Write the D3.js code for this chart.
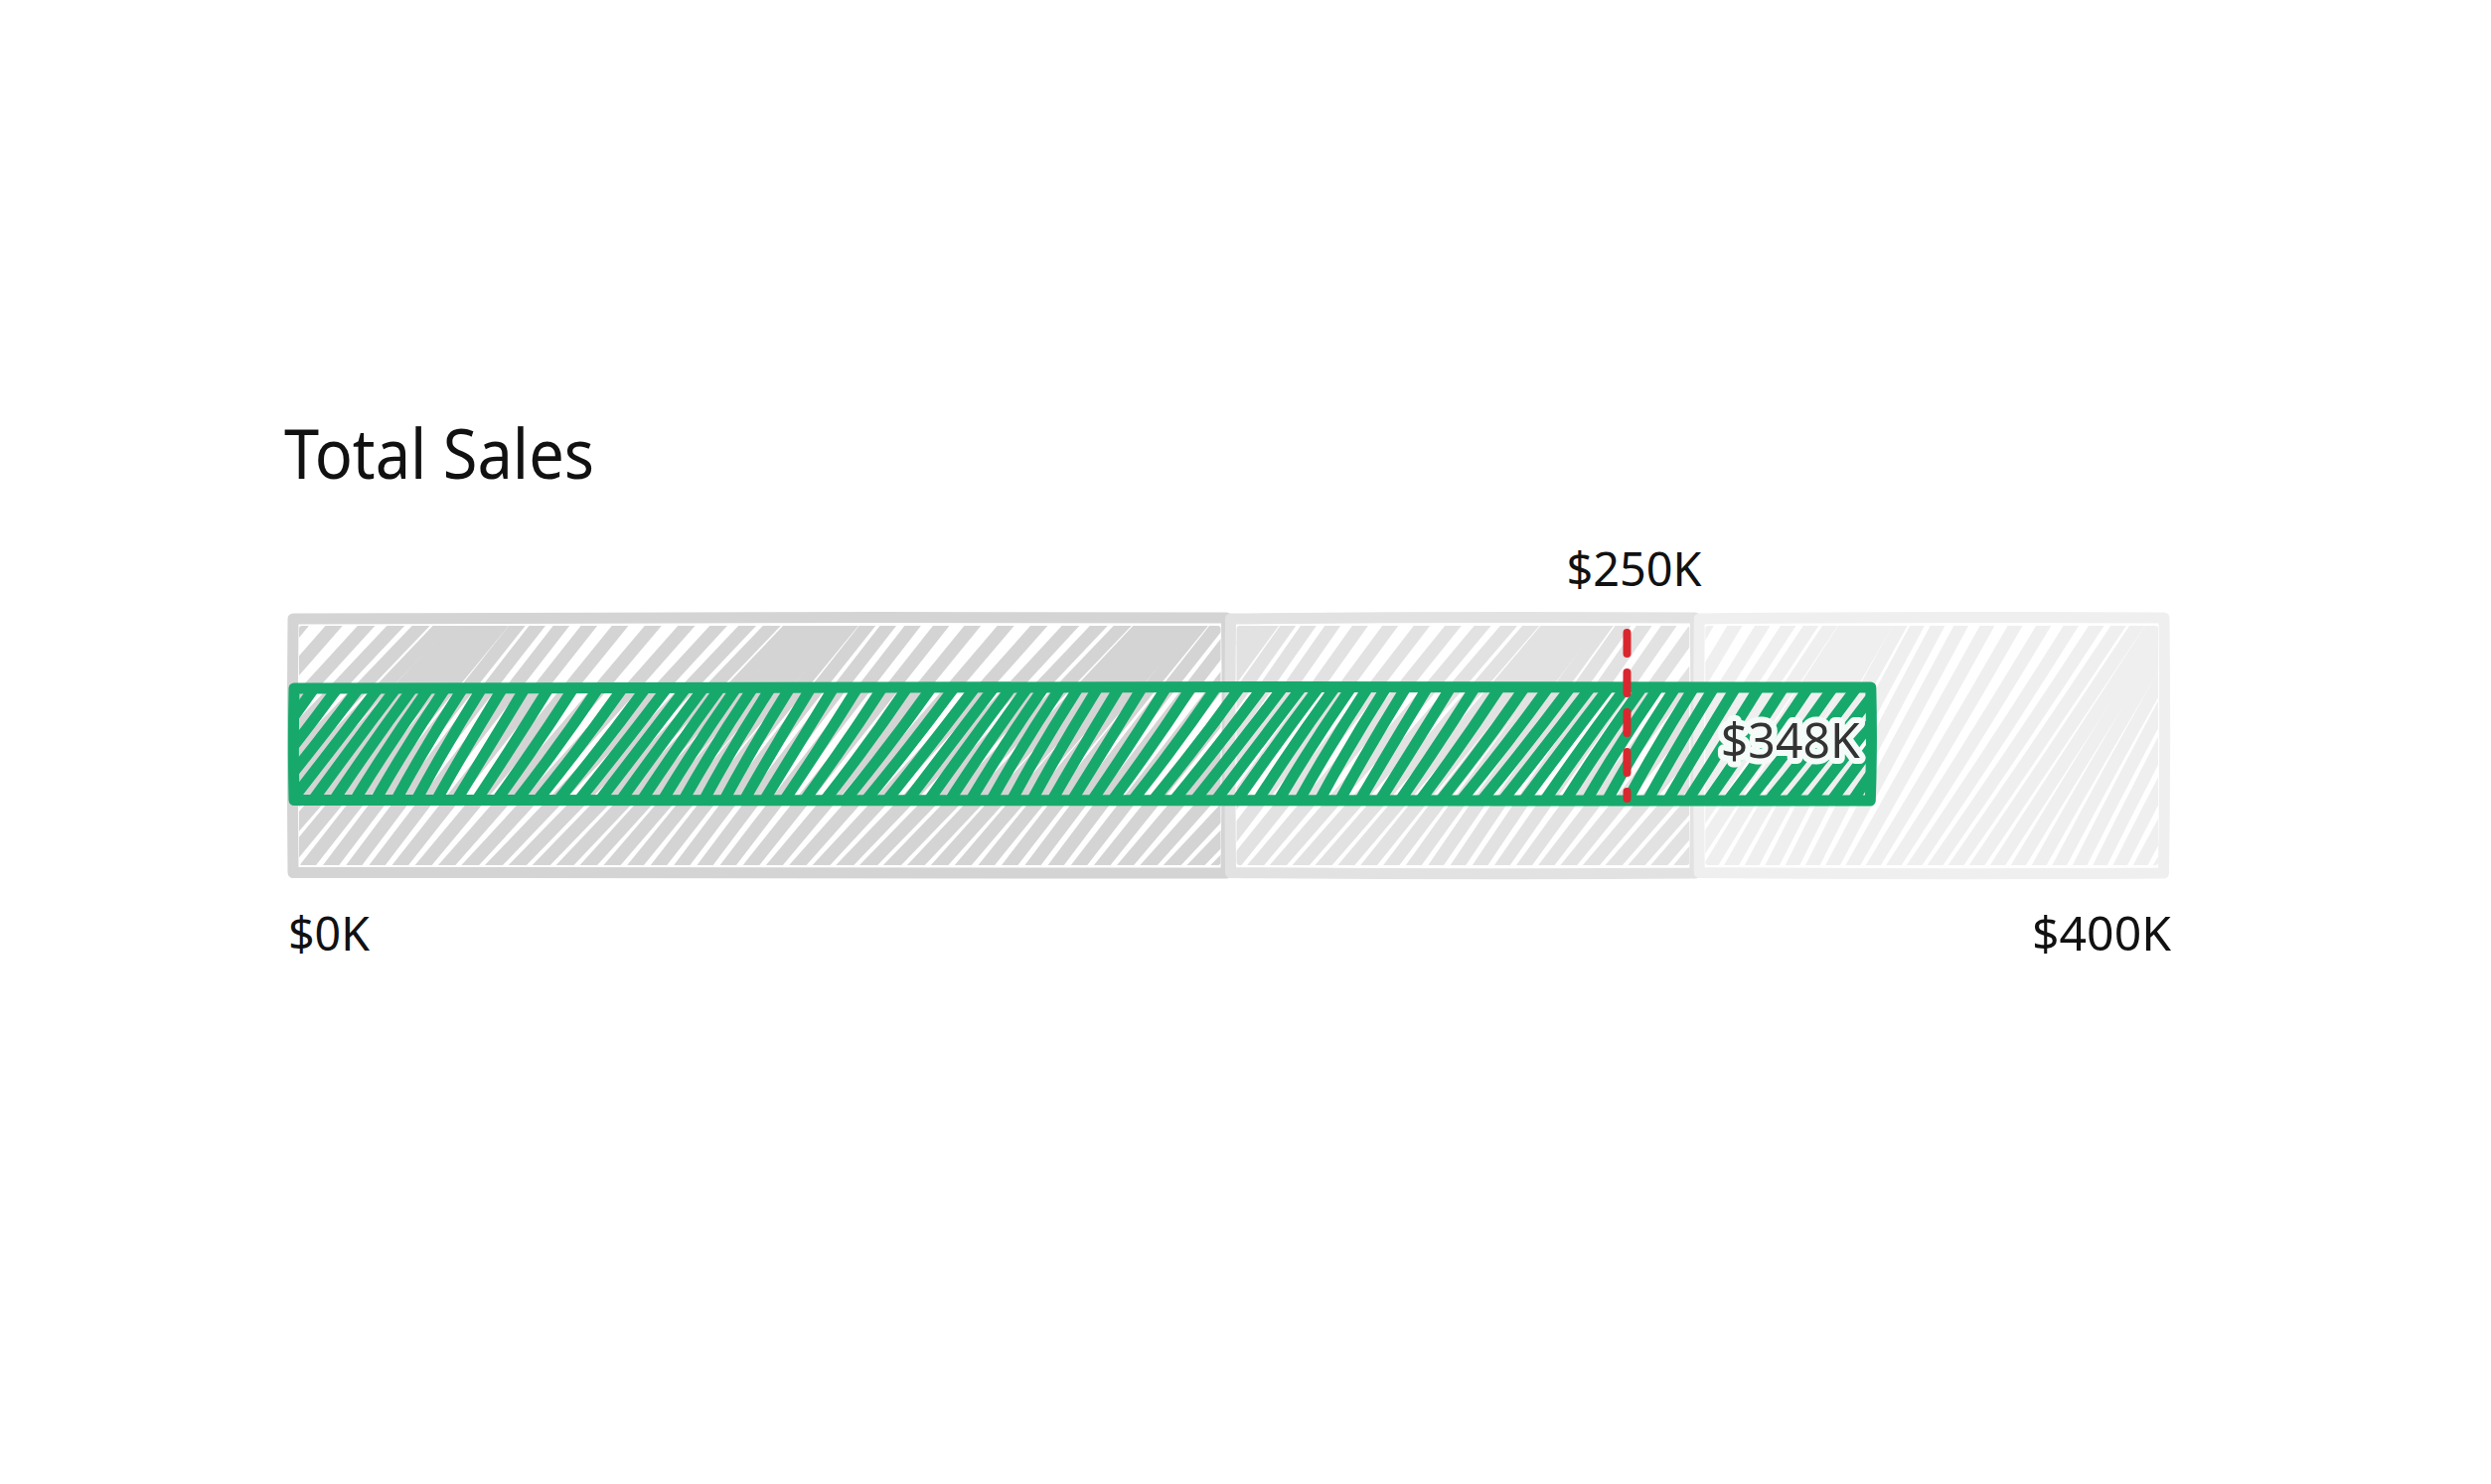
<!DOCTYPE html>
<html>
<head>
<meta charset="utf-8">
<script src="https://cdn.jsdelivr.net/npm/d3@7"></script>
<style>
  html, body { margin: 0; padding: 0; background: #ffffff; }
  svg { display: block; }
</style>
</head>
<body>
<svg id="chart" width="2507" height="1494"></svg>
<script>
// ---- data ----
const chartTitle = "Total Sales";
const rangeValues = [200, 300, 400];          // qualitative band ends, $K
const measureValue = 337;                      // bar end position, $K
const measureLabel = "$348K";
const targetValue = 285;                       // marker position, $K
const targetLabel = "$250K";
const axisTicks = [0, 400];
const axisTickLabels = ["$0K", "$400K"];

// ---- styles ----
const rangeColors = ["#d4d4d4", "#e2e2e2", "#efefef"];
const measureColor = "#17a96b";
const targetColor = "#d9272f";
const fontFamily = "'Noto Sans', 'DejaVu Sans', sans-serif";

const svg = d3.select("#chart");
const x = d3.scaleLinear().domain([0, 400]).range([293, 2180]);
const bandTop = 622, bandBottom = 879;
const barTop = 692, barBottom = 806;

// wobble helper (deterministic)
function wob(i, k) { return Math.sin(i * 12.9898 + k * 78.233); }

const defs = svg.append("defs");
let clipId = 0;

function hachure(g, x0, y0, x1, y1, color, width, spacing, angleDeg, inset, seed) {
  const id = "clip" + (clipId++);
  defs.append("clipPath").attr("id", id)
    .append("rect")
    .attr("x", x0 + inset).attr("y", y0 + inset)
    .attr("width", Math.max(0, x1 - x0 - 2 * inset))
    .attr("height", Math.max(0, y1 - y0 - 2 * inset))
    .attr("rx", 3);
  const lines = [];
  const H = (y1 - y0);
  let i = 0;
  const a0 = angleDeg * Math.PI / 180;
  const run = H / Math.tan(a0);
  const step = spacing / Math.sin(a0);
  for (let xs = x0 - run - step; xs < x1 + step; xs += step, i++) {
    const aj = a0 + wob(i + seed, 3) * 0.05;
    const r = H / Math.tan(aj);
    const sx = xs + wob(i + seed, 1) * 2, sy = y1 + 6;
    const ex = xs + r + wob(i + seed, 4) * 2, ey = y0 - 6;
    const mx = (sx + ex) / 2 + wob(i + seed, 2) * 5;
    const my = (sy + ey) / 2 + wob(i + seed, 5) * 4;
    lines.push(`M${sx},${sy} Q${mx},${my} ${ex},${ey}`);
  }
  g.append("g").attr("clip-path", `url(#${id})`)
    .selectAll("path").data(lines).join("path")
    .attr("d", d => d)
    .attr("fill", "none")
    .attr("stroke", color)
    .attr("stroke-width", width)
    .attr("stroke-linecap", "round");
}

function roughOutline(g, x0, y0, x1, y1, color, width) {
  const p = d3.path();
  p.moveTo(x0, y0 + 1);
  p.quadraticCurveTo((x0 + x1) / 2, y0 - 1.5, x1, y0);
  p.quadraticCurveTo(x1 + 1.5, (y0 + y1) / 2, x1 - 0.5, y1);
  p.quadraticCurveTo((x0 + x1) / 2, y1 + 1.5, x0, y1 - 0.5);
  p.quadraticCurveTo(x0 - 1.2, (y0 + y1) / 2, x0, y0 + 1);
  g.append("path").attr("d", p.toString())
    .attr("fill", "none").attr("stroke", color)
    .attr("stroke-width", width)
    .attr("stroke-linejoin", "round").attr("stroke-linecap", "round");
}

// ---- title ----
svg.append("text")
  .attr("x", 286).attr("y", 482)
  .attr("font-family", fontFamily).attr("font-size", 70)
  .attr("fill", "#111")
  .attr("textLength", 312).attr("lengthAdjust", "spacingAndGlyphs")
  .text(chartTitle);

// ---- ranges ----
const rangeG = svg.append("g");
const rangeStarts = [0].concat(rangeValues.slice(0, -1));
const rangeAngles = [48, 51, 58];
rangeValues.forEach((v, i) => {
  const x0 = x(rangeStarts[i]), x1 = x(v);
  const g = rangeG.append("g");
  hachure(g, x0, bandTop, x1, bandBottom, rangeColors[i], 13, 17.5, rangeAngles[i], 8, i * 37);
  roughOutline(g, x0 + 2, bandTop, x1 - 2, bandBottom, rangeColors[i], 11);
});

// ---- measure bar ----
const barG = svg.append("g");
hachure(barG, x(0), barTop, x(measureValue), barBottom, measureColor, 11, 16.5, 53, 4, 91);
roughOutline(barG, x(0) + 3, barTop, x(measureValue), barBottom, measureColor, 11);

// ---- target marker ----
svg.append("line")
  .attr("x1", x(targetValue)).attr("x2", x(targetValue))
  .attr("y1", 637).attr("y2", 804)
  .attr("stroke", targetColor).attr("stroke-width", 8)
  .attr("stroke-linecap", "round")
  .attr("stroke-dasharray", "21 19");

svg.append("text")
  .attr("x", x(targetValue) + 7).attr("y", 590)
  .attr("text-anchor", "middle")
  .attr("font-family", fontFamily).attr("font-size", 48)
  .attr("fill", "#111")
  .attr("textLength", 136).attr("lengthAdjust", "spacingAndGlyphs")
  .text(targetLabel);

// ---- value label ----
svg.append("text")
  .attr("x", x(measureValue) - 11).attr("y", 763)
  .attr("text-anchor", "end")
  .attr("font-family", fontFamily).attr("font-size", 50)
  .attr("fill", "#333")
  .attr("stroke", "#f4fbf8").attr("stroke-width", 12)
  .attr("stroke-linejoin", "round")
  .attr("paint-order", "stroke")
  .attr("textLength", 140).attr("lengthAdjust", "spacingAndGlyphs")
  .text(measureLabel);

// ---- axis end labels ----
svg.append("g").selectAll("text").data(axisTicks).join("text")
  .attr("x", (d, i) => i === 0 ? x(d) - 3 : x(d) + 5)
  .attr("y", 957)
  .attr("text-anchor", (d, i) => i === 0 ? "start" : "end")
  .attr("font-family", fontFamily).attr("font-size", 48)
  .attr("fill", "#111")
  .attr("textLength", (d, i) => i === 0 ? 82 : 140)
  .attr("lengthAdjust", "spacingAndGlyphs")
  .text((d, i) => axisTickLabels[i]);
</script>
</body>
</html>
